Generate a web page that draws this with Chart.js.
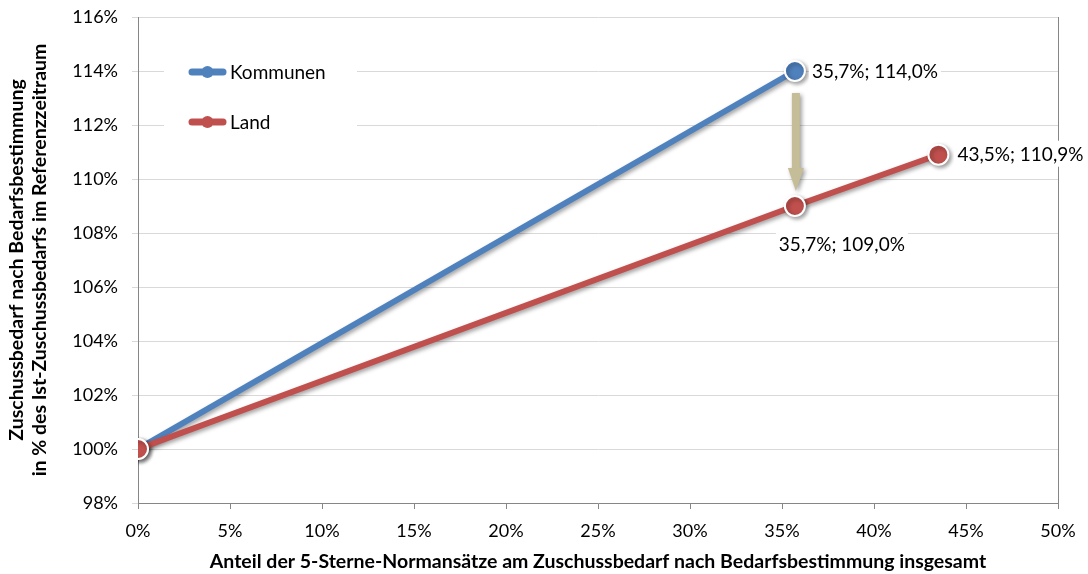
<!DOCTYPE html>
<html>
<head>
<meta charset="utf-8">
<script src="https://cdn.jsdelivr.net/npm/chart.js@4.4.1/dist/chart.umd.min.js"></script>
<style>
  html, body { margin: 0; padding: 0; background: #ffffff; }
  #wrap { width: 1088px; height: 574px; }
</style>
</head>
<body>
<div id="wrap"><canvas id="chart" width="1088" height="574"></canvas></div>
<script>
// Anteil der 5-Sterne-Normansätze (x, %) und Zuschussbedarf in % des Ist (y, %)
const seriesNames = ['Kommunen', 'Land'];
const kommunenX = [0, 35.7];
const kommunenY = [100, 114.0];
const landX = [0, 35.7, 43.5];
const landY = [100, 109.0, 110.9];
const xTicks = [0, 5, 10, 15, 20, 25, 30, 35, 40, 45, 50];
const yTicks = [98, 100, 102, 104, 106, 108, 110, 112, 114, 116];
const xTitle = 'Anteil der 5-Sterne-Normansätze am Zuschussbedarf nach Bedarfsbestimmung insgesamt';
const yTitle = ['Zuschussbedarf nach Bedarfsbestimmung', 'in % des Ist-Zuschussbedarfs im Referenzzeitraum'];

const BLUE = '#4f81bd';
const RED = '#c0504d';
const ARROW = '#c4bd97';
const FONT = 'Lato, "Open Sans", sans-serif';

const toPoints = (xs, ys) => xs.map((x, i) => ({ x: x, y: ys[i] }));
const fmt = v => v.toFixed(1).replace('.', ',');

// which points carry a value label, and where the label sits relative to the marker
const labelSpots = [
  { ds: 0, i: 1, dx: 17, dy: 0, align: 'left' },
  { ds: 1, i: 1, dx: 47, dy: 38, align: 'center' },
  { ds: 1, i: 2, dx: 19, dy: -1, align: 'left' }
];

function setShadow(ctx) {
  ctx.shadowColor = 'rgba(0,0,0,0.38)';
  ctx.shadowBlur = 4;
  ctx.shadowOffsetX = 2;
  ctx.shadowOffsetY = 2;
}

const decorations = {
  id: 'decorations',
  beforeDatasetsDraw(chart) {
    chart.ctx.save();
    setShadow(chart.ctx);
  },
  afterDatasetsDraw(chart) {
    const ctx = chart.ctx;
    ctx.restore();
    const xs = chart.scales.x, ys = chart.scales.y;

    // arrow from the Kommunen end point down to the Land point at the same share
    const ax = xs.getPixelForValue(kommunenX[1]) + 1;
    const yFrom = ys.getPixelForValue(kommunenY[1]) + 22;
    const yTo = ys.getPixelForValue(landY[1]) - 15;
    const headLen = 23, headHalf = 8, shaftHalf = 4;
    ctx.save();
    setShadow(ctx);
    ctx.fillStyle = ARROW;
    ctx.beginPath();
    ctx.moveTo(ax - shaftHalf, yFrom);
    ctx.lineTo(ax + shaftHalf, yFrom);
    ctx.lineTo(ax + shaftHalf, yTo - headLen);
    ctx.lineTo(ax + headHalf, yTo - headLen);
    ctx.lineTo(ax, yTo);
    ctx.lineTo(ax - headHalf, yTo - headLen);
    ctx.lineTo(ax - shaftHalf, yTo - headLen);
    ctx.closePath();
    ctx.fill();
    ctx.restore();

    // value labels with white backing
    ctx.save();
    ctx.font = '19px ' + FONT;
    ctx.textBaseline = 'middle';
    labelSpots.forEach(s => {
      const p = chart.data.datasets[s.ds].data[s.i];
      const px = xs.getPixelForValue(p.x), py = ys.getPixelForValue(p.y);
      const text = fmt(p.x) + '%; ' + fmt(p.y) + '%';
      const w = ctx.measureText(text).width;
      const left = s.align === 'center' ? px + s.dx - w / 2 : px + s.dx;
      const cy = py + s.dy;
      ctx.fillStyle = '#ffffff';
      ctx.fillRect(left - 3, cy - 13, w + 6, 26);
      ctx.fillStyle = '#000000';
      ctx.textAlign = 'left';
      ctx.fillText(text, left, cy + 1);
    });
    ctx.restore();

    // legend inside the plot area
    ctx.save();
    ctx.fillStyle = '#ffffff';
    ctx.fillRect(164, 40, 193, 112);
    chart.data.datasets.forEach((d, k) => {
      const ly = 72 + k * 50;
      ctx.strokeStyle = d.borderColor;
      ctx.lineWidth = 7;
      ctx.lineCap = 'round';
      ctx.beginPath();
      ctx.moveTo(192, ly);
      ctx.lineTo(223, ly);
      ctx.stroke();
      ctx.fillStyle = d.borderColor;
      ctx.beginPath();
      ctx.arc(207.5, ly, 6, 0, Math.PI * 2);
      ctx.fill();
      ctx.fillStyle = '#000000';
      ctx.font = '19px ' + FONT;
      ctx.textBaseline = 'middle';
      ctx.textAlign = 'left';
      ctx.fillText(d.label, 230, ly + 1);
    });
    ctx.restore();
  }
};

new Chart(document.getElementById('chart'), {
  type: 'scatter',
  data: {
    datasets: [
      {
        label: seriesNames[0],
        data: toPoints(kommunenX, kommunenY),
        showLine: true,
        borderColor: BLUE,
        backgroundColor: BLUE,
        borderWidth: 6,
        pointRadius: 10,
        pointHoverRadius: 10,
        pointBorderColor: '#ffffff',
        pointBorderWidth: 2,
        pointBackgroundColor: BLUE,
        order: 1
      },
      {
        label: seriesNames[1],
        data: toPoints(landX, landY),
        showLine: true,
        borderColor: RED,
        backgroundColor: RED,
        borderWidth: 6,
        pointRadius: 10,
        pointHoverRadius: 10,
        pointBorderColor: '#ffffff',
        pointBorderWidth: 2,
        pointBackgroundColor: RED,
        order: 0
      }
    ]
  },
  options: {
    responsive: false,
    animation: false,
    devicePixelRatio: 1,
    layout: { padding: { top: 17, right: 30, left: 0, bottom: 0 } },
    plugins: {
      legend: { display: false },
      tooltip: { enabled: false }
    },
    scales: {
      x: {
        type: 'linear',
        min: 0,
        max: 50,
        afterBuildTicks: s => { s.ticks = xTicks.map(v => ({ value: v })); },
        afterFit: s => { s.height = 71; },
        ticks: {
          callback: v => v + '%',
          color: '#000000',
          font: { family: FONT, size: 18 },
          padding: 11,
          maxRotation: 0
        },
        grid: {
          color: c => (c.tick && c.tick.value === 50 ? '#868686' : 'rgba(0,0,0,0)'),
          tickColor: '#868686',
          tickLength: 6,
          drawOnChartArea: true
        },
        border: { color: '#868686', width: 1 },
        title: {
          display: true,
          text: xTitle,
          color: '#000000',
          font: { family: FONT, size: 19.5, weight: 'bold' },
          padding: { top: 0, bottom: 1 }
        }
      },
      y: {
        type: 'linear',
        min: 98,
        max: 116,
        afterBuildTicks: s => { s.ticks = yTicks.map(v => ({ value: v })); },
        afterFit: s => { s.width = 138; s.paddingTop = 8; s.paddingBottom = 8; },
        ticks: {
          callback: v => v + '%',
          color: '#000000',
          font: { family: FONT, size: 18 },
          padding: 14
        },
        grid: {
          color: '#d9d9d9',
          tickColor: '#d9d9d9',
          tickLength: 6
        },
        border: { color: '#868686', width: 1 },
        title: {
          display: true,
          text: yTitle,
          color: '#000000',
          font: { family: FONT, size: 19.5, weight: 'bold', lineHeight: 1.18 },
          padding: { top: 5, bottom: 0 }
        }
      }
    }
  },
  plugins: [decorations]
});
</script>
</body>
</html>
